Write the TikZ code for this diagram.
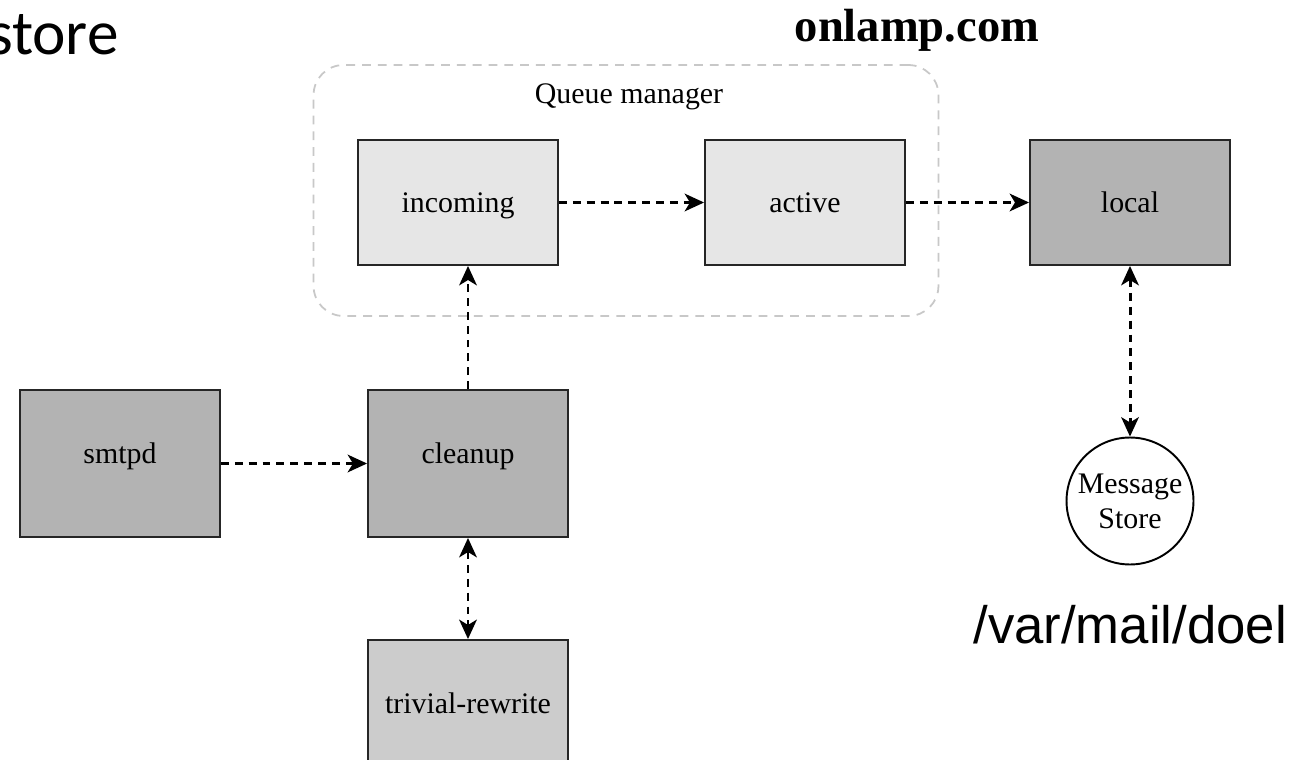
\documentclass[tikz,border=0pt]{standalone}
\usepackage{fontspec}
\setmainfont{Liberation Serif}
\newfontfamily\arialfont{Liberation Sans}
\newfontfamily\calfont{Carlito}
\usetikzlibrary{arrows.meta}
\definecolor{lightbox}{HTML}{E6E6E6}
\definecolor{darkbox}{HTML}{B3B3B3}
\definecolor{midbox}{HTML}{CCCCCC}
\definecolor{qborder}{HTML}{C8C8C8}
\tikzset{
  procbox/.style={draw=black!85, line width=1.1pt, minimum width=4cm, minimum height=2.5cm, inner sep=0pt, text height=11pt, text depth=0pt, font=\fontsize{17}{19}\selectfont},
  tallbox/.style={procbox, minimum height=2.94cm, text height=5pt, text depth=5pt},
  flow/.style={line width=1.7pt, dash pattern=on 4.5pt off 3.4pt, -{Stealth[length=11pt,width=10pt,inset=3pt]}},
  bothflow/.style={line width=1.7pt, dash pattern=on 4.5pt off 3.4pt, {Stealth[length=11pt,width=10pt,inset=3pt]}-{Stealth[length=11pt,width=10pt,inset=3pt]}},
}
\begin{document}
\begin{tikzpicture}[x=0.02cm,y=-0.02cm]
\clip (0,0) rectangle (1315,760);
\fill[white] (0,0) rectangle (1315,760);
% Queue manager group
\node[draw=qborder, line width=1pt, dash pattern=on 5pt off 4pt, rounded corners=0.6cm, minimum width=12.5cm, minimum height=5.02cm] (qm) at (626,190.5) {};
\node[font=\fontsize{17}{19}\selectfont] (qmlabel) at (629,97) {Queue manager};
% boxes
\node[procbox, fill=lightbox] (incoming) at (458,202.5) {incoming};
\node[procbox, fill=lightbox] (active) at (805,202.5) {active};
\node[procbox, fill=darkbox] (local) at (1130,202.5) {local};
\node[tallbox, fill=darkbox] (smtpd) at (120,463.5) {smtpd};
\node[tallbox, fill=darkbox] (cleanup) at (468,463.5) {cleanup};
\node[tallbox, fill=midbox] (trivial) at (468,713.5) {trivial-rewrite};
\node[draw=black, line width=1.1pt, circle, minimum size=2.54cm, inner sep=0pt, align=center, font=\fontsize{17}{20}\selectfont] (store) at (1130,501) {Message\\Store};
% texts
\node[font=\bfseries\fontsize{26.5}{30}\selectfont] (site) at (917,30) {onlamp.com};
\node[font=\arialfont\fontsize{30}{34}\selectfont, anchor=base west, inner sep=0pt] (path) at (973,643) {/var/mail/doel};
\node[font=\calfont\fontsize{36}{40}\selectfont, anchor=base east, inner sep=0pt] (storetitle) at (119,55) {store};
% connectors
\draw[flow] (incoming.east) -- (active.west);
\draw[flow] (active.east) -- (local.west);
\draw[flow] (smtpd.east) -- (cleanup.west);
\draw[flow] (cleanup.north) -- (cleanup.north |- incoming.south);
\draw[bothflow] (local.south) -- (store.north);
\draw[bothflow] (cleanup.south) -- (trivial.north);
\end{tikzpicture}
\end{document}
